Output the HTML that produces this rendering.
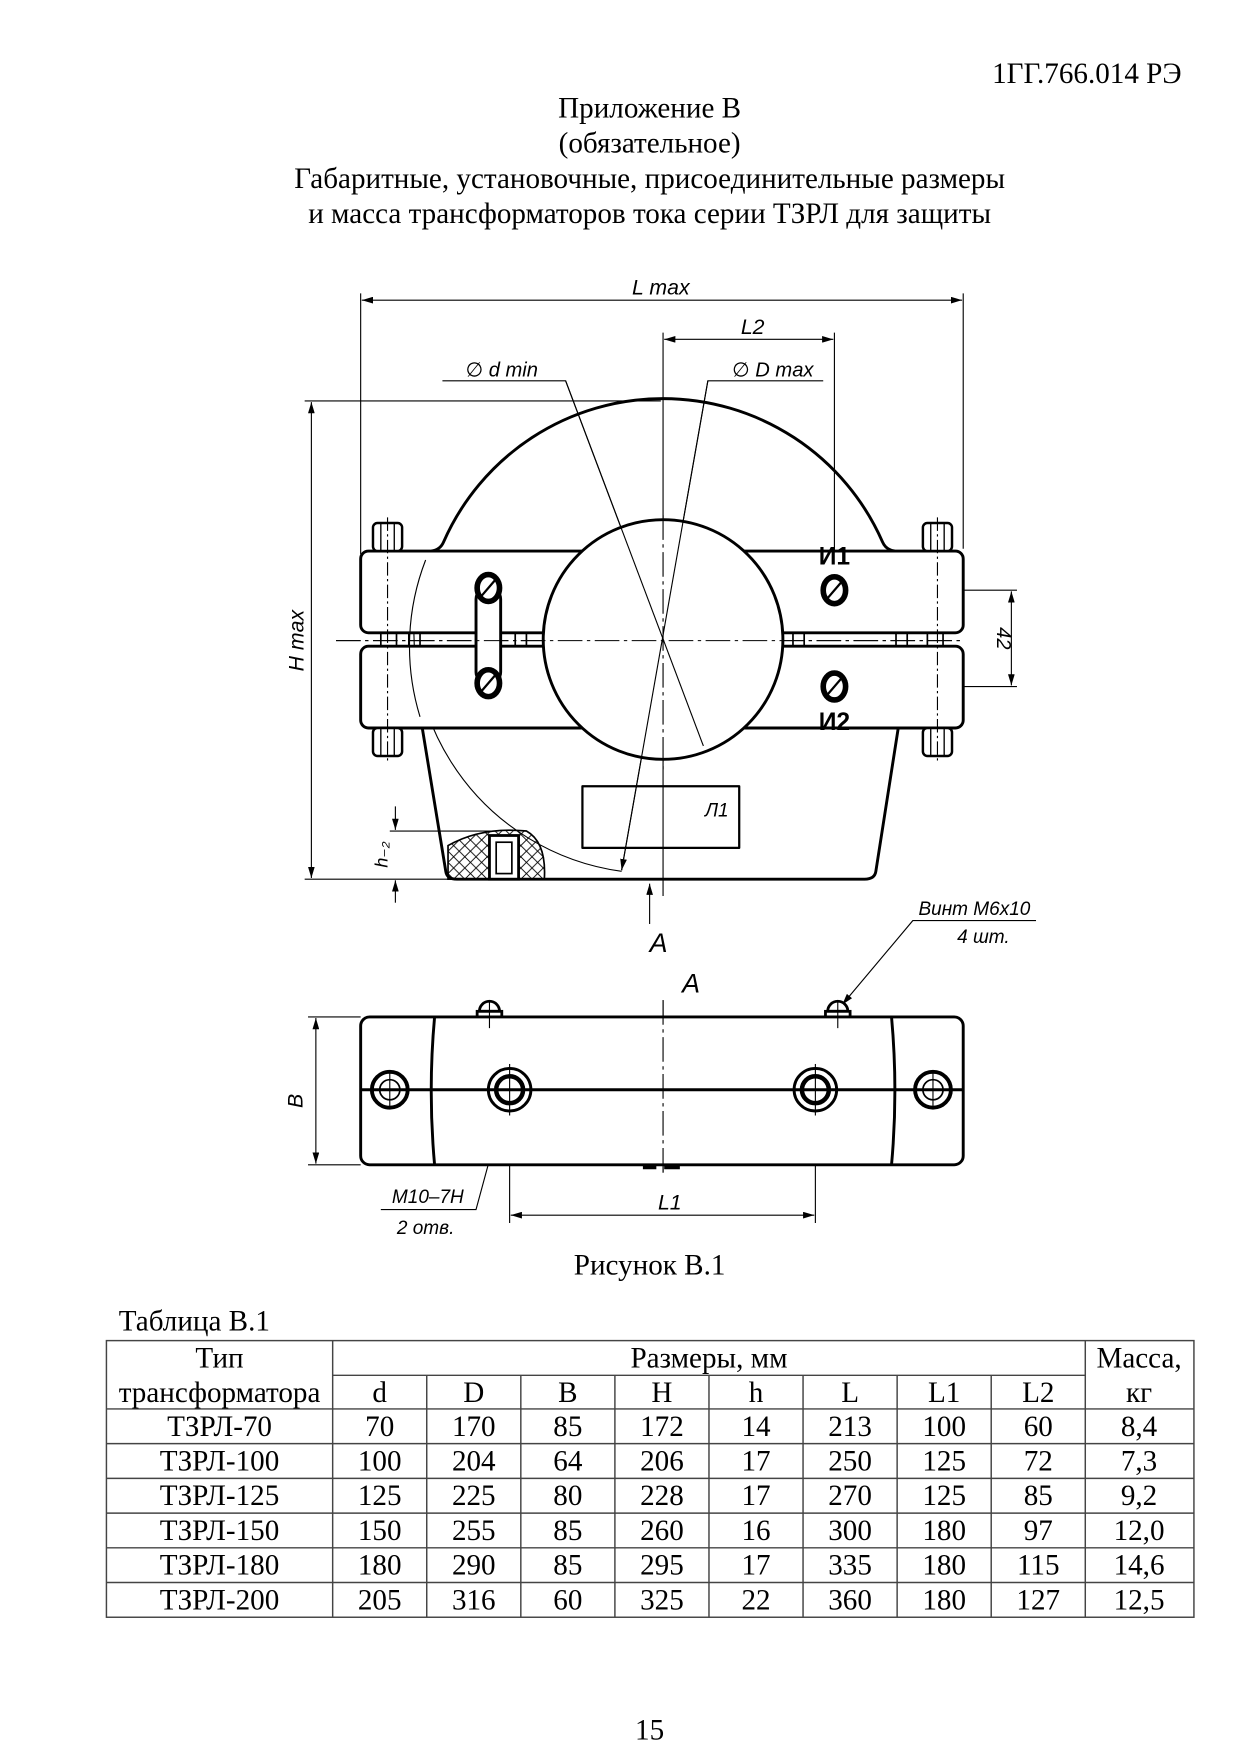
<!DOCTYPE html>
<html><head><meta charset="utf-8"><style>
html,body{margin:0;padding:0;background:#fff}
svg{display:block}
.t{font-family:"Liberation Serif","Noto Serif CJK SC",serif;fill:#000}
.i{font-family:"Liberation Sans","DejaVu Sans",sans-serif;font-style:italic;fill:#000}
</style></head><body>
<svg width="1241" height="1755" viewBox="0 0 1108 1567" xmlns="http://www.w3.org/2000/svg">
<defs>
<marker id="a" viewBox="0 0 10 6" refX="10" refY="3" markerWidth="10" markerHeight="6" orient="auto-start-reverse" markerUnits="userSpaceOnUse"><path d="M0,0 L10,3 L0,6 z" fill="#000"/></marker>
<pattern id="h" width="10" height="10" patternUnits="userSpaceOnUse"><path d="M0,0 L10,10 M10,0 L0,10" stroke="#000" stroke-width="0.8"/></pattern>
</defs>
<!-- header -->
<text class="t" x="1055" y="74" font-size="26" text-anchor="end">1ГГ.766.014 РЭ</text>
<g class="t" font-size="26" text-anchor="middle">
<text x="580" y="105">Приложение В</text>
<text x="580" y="136">(обязательное)</text>
<text x="580" y="168">Габаритные, установочные, присоединительные размеры</text>
<text x="580" y="199">и масса трансформаторов тока серии ТЗРЛ для защиты</text>
</g>

<!-- front view -->
<g fill="none" stroke="#000" stroke-width="1">
<line x1="322" y1="262" x2="322" y2="495"/><line x1="860" y1="262" x2="860" y2="490"/>
<line x1="323" y1="268" x2="859" y2="268" marker-start="url(#a)" marker-end="url(#a)"/>
<line x1="745" y1="297" x2="745" y2="540"/>
<line x1="593" y1="303" x2="744" y2="303" marker-start="url(#a)" marker-end="url(#a)"/>
<line x1="592" y1="297" x2="592" y2="800"/>
<line x1="300" y1="572" x2="860" y2="572" stroke-dasharray="22,4,3,4"/>
<polyline points="395,340 505,340 628,666" marker-end="url(#a)"/>
<polyline points="735,340 632,340 555,777" marker-end="url(#a)"/>
<line x1="272" y1="358" x2="590" y2="358"/><line x1="272" y1="785" x2="400" y2="785"/>
<line x1="278" y1="359" x2="278" y2="784" marker-start="url(#a)" marker-end="url(#a)"/>
<line x1="758" y1="527" x2="908" y2="527"/><line x1="758" y1="613" x2="908" y2="613"/>
<line x1="903" y1="528" x2="903" y2="612" marker-start="url(#a)" marker-end="url(#a)"/>
<line x1="348" y1="742" x2="445" y2="742"/>
<line x1="353" y1="720" x2="353" y2="741" marker-end="url(#a)"/>
<line x1="353" y1="806" x2="353" y2="786" marker-end="url(#a)"/>
<line x1="580" y1="825" x2="580" y2="789" marker-end="url(#a)"/>
<path d="M380,500 A214,214 0 0 0 555,778"/>
<polyline points="925,822 815,822 752,897" marker-end="url(#a)"/>
</g>

<g fill="none" stroke="#000" stroke-width="2.6" stroke-linejoin="round">
<path d="M385,492 Q393,491 396,484 A214,214 0 0 1 788,484 Q791,491 799,492"/>
<rect x="322" y="492" width="538" height="73" rx="7" fill="#fff"/>
<rect x="322" y="577" width="538" height="73" rx="7" fill="#fff"/>
<path d="M377,650 L398,778 Q399,785 408,785 L772,785 Q781,785 782,778 L802,650"/>
<circle cx="592" cy="571" r="107" fill="#fff"/>
<rect x="425" y="525" width="22" height="85" rx="10" fill="#fff"/>
<rect x="520" y="702" width="140" height="55" stroke-width="2"/>
</g>
<g fill="none" stroke="#000" stroke-width="1">
<path d="M380,500 A214,214 0 0 0 375,640"/>
<line x1="300" y1="572" x2="860" y2="572" stroke-dasharray="22,4,3,4"/>
<line x1="592" y1="460" x2="592" y2="690" stroke-dasharray="22,4,3,4"/>
<line x1="505" y1="340" x2="628" y2="666"/>
<line x1="632" y1="340" x2="555" y2="777"/>
</g>
<g fill="none" stroke="#000" stroke-width="1.5">
<rect x="340" y="565" width="14" height="12"/><rect x="365" y="565" width="10" height="12"/>
<rect x="460" y="565" width="10" height="12"/><rect x="708" y="565" width="10" height="12"/>
<rect x="800" y="565" width="10" height="12"/><rect x="828" y="565" width="14" height="12"/>
</g>
<g fill="#fff" stroke="#000" stroke-width="2.2">
<rect x="333" y="467" width="26" height="25" rx="4"/><rect x="824" y="467" width="26" height="25" rx="4"/>
<rect x="333" y="650" width="26" height="25" rx="4"/><rect x="824" y="650" width="26" height="25" rx="4"/>
</g>
<g stroke="#000" stroke-width="1.2">
<line x1="340" y1="467" x2="340" y2="492"/><line x1="352" y1="467" x2="352" y2="492"/>
<line x1="831" y1="467" x2="831" y2="492"/><line x1="843" y1="467" x2="843" y2="492"/>
<line x1="340" y1="650" x2="340" y2="675"/><line x1="352" y1="650" x2="352" y2="675"/>
<line x1="831" y1="650" x2="831" y2="675"/><line x1="843" y1="650" x2="843" y2="675"/>
</g>
<g stroke="#000" stroke-width="1" stroke-dasharray="12,3,2,3">
<line x1="346" y1="462" x2="346" y2="680"/><line x1="837" y1="462" x2="837" y2="680"/>
</g>
<g fill="#fff" stroke="#000" stroke-width="5">
<ellipse cx="436" cy="525" rx="10" ry="12"/><ellipse cx="436" cy="610" rx="10" ry="12"/>
<ellipse cx="745" cy="527" rx="10" ry="12"/><ellipse cx="745" cy="613" rx="10" ry="12"/>
</g>
<g stroke="#000" stroke-width="2">
<line x1="430" y1="532" x2="442" y2="518"/><line x1="430" y1="617" x2="442" y2="603"/>
<line x1="739" y1="534" x2="751" y2="520"/><line x1="739" y1="620" x2="751" y2="606"/>
</g>
<path d="M400,785 L400,755 Q430,738 470,742 Q488,752 486,785 Z" fill="url(#h)" stroke="#000" stroke-width="1.5"/>
<rect x="437" y="746" width="26" height="39" fill="#fff" stroke="#000" stroke-width="2.5"/>
<rect x="443" y="752" width="14" height="28" fill="none" stroke="#000" stroke-width="1.5"/>

<text class="i" x="590" y="263" font-size="19" text-anchor="middle">L max</text>
<text class="i" x="672" y="298" font-size="19" text-anchor="middle">L2</text>
<text class="i" x="448" y="336" font-size="18" text-anchor="middle">∅ d min</text>
<text class="i" x="690" y="336" font-size="18" text-anchor="middle">∅ D max</text>
<text class="i" x="0" y="0" font-size="19" text-anchor="middle" transform="translate(271,572) rotate(-90)">H max</text>
<text class="i" x="0" y="0" font-size="18" text-anchor="middle" transform="translate(890,570) rotate(90)">42</text>
<text class="i" x="0" y="0" font-size="16" text-anchor="middle" transform="translate(346,763) rotate(-90)">h₋₂</text>
<text x="745" y="504" font-family="Liberation Sans,sans-serif" font-weight="bold" font-size="22" text-anchor="middle">И1</text>
<text x="745" y="652" font-family="Liberation Sans,sans-serif" font-weight="bold" font-size="22" text-anchor="middle">И2</text>
<text class="i" x="640" y="729" font-size="17" text-anchor="middle">Л1</text>
<text class="i" x="588" y="850" font-size="24" text-anchor="middle">A</text>
<text class="i" x="870" y="817" font-size="17" text-anchor="middle">Винт М6х10</text>
<text class="i" x="878" y="842" font-size="17" text-anchor="middle">4 шт.</text>

<!-- bottom view -->
<text class="i" x="617" y="886" font-size="24" text-anchor="middle">A</text>
<g fill="none" stroke="#000" stroke-width="1">
<line x1="275" y1="908" x2="322" y2="908"/><line x1="275" y1="1040" x2="322" y2="1040"/>
<line x1="282" y1="909" x2="282" y2="1039" marker-start="url(#a)" marker-end="url(#a)"/>
<line x1="455" y1="955" x2="455" y2="1092"/><line x1="728" y1="955" x2="728" y2="1092"/>
<line x1="456" y1="1085" x2="727" y2="1085" marker-start="url(#a)" marker-end="url(#a)"/>
<line x1="592" y1="893" x2="592" y2="1048" stroke-dasharray="22,4,3,4"/>
<polyline points="340,1080 425,1080 463,940"/>
</g>
<g fill="#fff" stroke="#000" stroke-width="2.5">
<path d="M428,903 A9,9 0 0 1 446,903 Z"/><path d="M739,903 A9,9 0 0 1 757,903 Z"/>
<rect x="426" y="903" width="22" height="5"/><rect x="737" y="903" width="22" height="5"/>
</g>
<g fill="none" stroke="#000" stroke-width="2.6">
<rect x="322" y="908" width="538" height="132" rx="8" fill="#fff"/>
<path d="M388,908 Q382,974 388,1040"/><path d="M796,908 Q802,974 796,1040"/>
<line x1="322" y1="973" x2="860" y2="973"/>
<circle cx="455" cy="973" r="19"/><circle cx="728" cy="973" r="19"/>
<circle cx="455" cy="973" r="12" stroke-width="4"/><circle cx="728" cy="973" r="12" stroke-width="4"/>
<circle cx="348" cy="973" r="16" stroke-width="3.5"/><circle cx="833" cy="973" r="16" stroke-width="3.5"/>
<circle cx="348" cy="973" r="9" stroke-width="1.5"/><circle cx="833" cy="973" r="9" stroke-width="1.5"/>
</g>
<g stroke="#000" stroke-width="1">
<line x1="348" y1="958" x2="348" y2="988"/><line x1="833" y1="958" x2="833" y2="988"/>
<line x1="455" y1="950" x2="455" y2="996"/><line x1="728" y1="950" x2="728" y2="996"/>
<line x1="437" y1="894" x2="437" y2="918"/><line x1="748" y1="894" x2="748" y2="918"/>
<line x1="592" y1="893" x2="592" y2="1048" stroke-dasharray="22,4,3,4"/>
</g>
<rect x="574" y="1040" width="12" height="4" fill="#000"/><rect x="593" y="1040" width="14" height="4" fill="#000"/>
<text class="i" x="0" y="0" font-size="19" text-anchor="middle" transform="translate(270,983) rotate(-90)">B</text>
<text class="i" x="598" y="1080" font-size="19" text-anchor="middle">L1</text>
<text class="i" x="382" y="1074" font-size="17" text-anchor="middle">M10–7H</text>
<text class="i" x="380" y="1102" font-size="17" text-anchor="middle">2 отв.</text>

<text class="t" x="580" y="1138" font-size="26" text-anchor="middle">Рисунок В.1</text>
<text class="t" x="106" y="1188" font-size="26">Таблица В.1</text>

<g stroke="#444" stroke-width="1.3" fill="none">
<rect x="95" y="1197" width="971" height="247"/>
<line x1="297" y1="1228" x2="969" y2="1228"/>
<line x1="95" y1="1258" x2="1066" y2="1258"/>
<line x1="95" y1="1289" x2="1066" y2="1289"/>
<line x1="95" y1="1320" x2="1066" y2="1320"/>
<line x1="95" y1="1351" x2="1066" y2="1351"/>
<line x1="95" y1="1382" x2="1066" y2="1382"/>
<line x1="95" y1="1413" x2="1066" y2="1413"/>
<line x1="297" y1="1197" x2="297" y2="1444"/>
<line x1="969" y1="1197" x2="969" y2="1444"/>
<line x1="381" y1="1228" x2="381" y2="1444"/><line x1="465" y1="1228" x2="465" y2="1444"/>
<line x1="549" y1="1228" x2="549" y2="1444"/><line x1="633" y1="1228" x2="633" y2="1444"/>
<line x1="717" y1="1228" x2="717" y2="1444"/><line x1="801" y1="1228" x2="801" y2="1444"/>
<line x1="885" y1="1228" x2="885" y2="1444"/>
</g>
<g class="t" font-size="26" text-anchor="middle">
<text x="196" y="1221">Тип</text><text x="196" y="1252">трансформатора</text>
<text x="633" y="1221">Размеры, мм</text>
<text x="1017" y="1221">Масса,</text><text x="1017" y="1252">кг</text>
<text x="339" y="1252">d</text><text x="423" y="1252">D</text><text x="507" y="1252">B</text><text x="591" y="1252">H</text><text x="675" y="1252">h</text><text x="759" y="1252">L</text><text x="843" y="1252">L1</text><text x="927" y="1252">L2</text>
</g>
<g class="t" font-size="26" text-anchor="middle">
<text x="196" y="1282">ТЗРЛ-70</text><text x="339" y="1282">70</text><text x="423" y="1282">170</text><text x="507" y="1282">85</text><text x="591" y="1282">172</text><text x="675" y="1282">14</text><text x="759" y="1282">213</text><text x="843" y="1282">100</text><text x="927" y="1282">60</text><text x="1017" y="1282">8,4</text>
<text x="196" y="1313">ТЗРЛ-100</text><text x="339" y="1313">100</text><text x="423" y="1313">204</text><text x="507" y="1313">64</text><text x="591" y="1313">206</text><text x="675" y="1313">17</text><text x="759" y="1313">250</text><text x="843" y="1313">125</text><text x="927" y="1313">72</text><text x="1017" y="1313">7,3</text>
<text x="196" y="1344">ТЗРЛ-125</text><text x="339" y="1344">125</text><text x="423" y="1344">225</text><text x="507" y="1344">80</text><text x="591" y="1344">228</text><text x="675" y="1344">17</text><text x="759" y="1344">270</text><text x="843" y="1344">125</text><text x="927" y="1344">85</text><text x="1017" y="1344">9,2</text>
<text x="196" y="1375">ТЗРЛ-150</text><text x="339" y="1375">150</text><text x="423" y="1375">255</text><text x="507" y="1375">85</text><text x="591" y="1375">260</text><text x="675" y="1375">16</text><text x="759" y="1375">300</text><text x="843" y="1375">180</text><text x="927" y="1375">97</text><text x="1017" y="1375">12,0</text>
<text x="196" y="1406">ТЗРЛ-180</text><text x="339" y="1406">180</text><text x="423" y="1406">290</text><text x="507" y="1406">85</text><text x="591" y="1406">295</text><text x="675" y="1406">17</text><text x="759" y="1406">335</text><text x="843" y="1406">180</text><text x="927" y="1406">115</text><text x="1017" y="1406">14,6</text>
<text x="196" y="1437">ТЗРЛ-200</text><text x="339" y="1437">205</text><text x="423" y="1437">316</text><text x="507" y="1437">60</text><text x="591" y="1437">325</text><text x="675" y="1437">22</text><text x="759" y="1437">360</text><text x="843" y="1437">180</text><text x="927" y="1437">127</text><text x="1017" y="1437">12,5</text>
</g>
<text class="t" x="580" y="1553" font-size="26" text-anchor="middle">15</text>
</svg>
</body></html>
